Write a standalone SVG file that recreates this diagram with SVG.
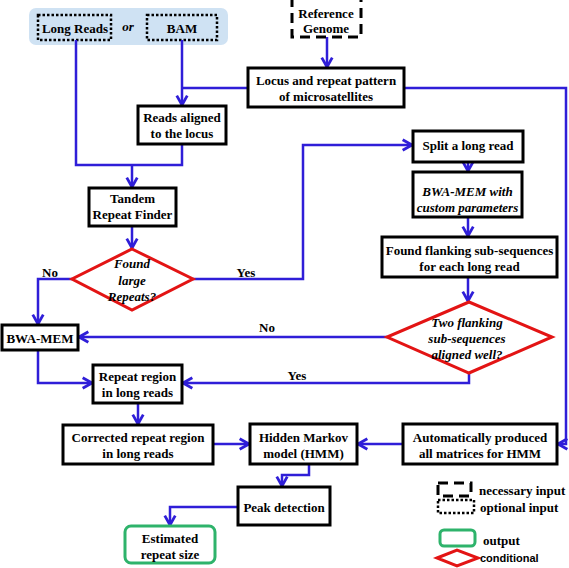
<svg xmlns="http://www.w3.org/2000/svg" width="569" height="568" viewBox="0 0 569 568">
<defs>
<marker id="arr" markerUnits="userSpaceOnUse" markerWidth="14" markerHeight="14" viewBox="0 0 12 12" refX="10" refY="6" orient="auto">
<path d="M2,1.5 L10,6 L2,10.5" fill="none" stroke="#2f1ed8" stroke-width="2.4" stroke-linejoin="miter"/>
</marker>
<style>
.box{fill:#fff;stroke:#000;stroke-width:3}
.dot{fill:none;stroke:#000;stroke-width:2.5;stroke-dasharray:2.5 2}
.dash{fill:#fff;stroke:#000;stroke-width:3;stroke-dasharray:10 6}
.cond{fill:#fff;stroke:#e31414;stroke-width:3}
.out{fill:#fff;stroke:#2eb36b;stroke-width:3}
.t{font-family:"Liberation Serif","Times New Roman",serif;font-weight:bold;font-size:13px;fill:#000;text-anchor:middle}
.i{font-style:italic}
.l{text-anchor:start}
.s{font-family:"Liberation Sans",Arial,sans-serif;font-weight:bold;font-size:11px;text-anchor:start}
.c{fill:none;stroke:#2f1ed8;stroke-width:2.5}
</style>
</defs>
<g id="inputs">
<rect x="29" y="8" width="199" height="37" rx="7" fill="#cfe2f3"/>
<g id="long-reads"><rect class="dot" x="38" y="15" width="73" height="25"/><text class="t" x="75" y="33">Long Reads</text></g>
<text class="t i" x="128" y="31">or</text>
<g id="bam"><rect class="dot" x="147" y="15" width="70" height="25"/><text class="t" x="182" y="33">BAM</text></g>
</g>
<g id="connectors">
<path class="c" d="M327,37 V67" marker-end="url(#arr)"/>
<path class="c" d="M404,88 H566 V444 H558" marker-end="url(#arr)"/>
<path class="c" d="M248,88 H182"/>
<path class="c" d="M182,40 V105" marker-end="url(#arr)"/>
<path class="c" d="M76,40 V165 H182 V144"/>
<path class="c" d="M132,165 V187" marker-end="url(#arr)"/>
<path class="c" d="M132,226 V248" marker-end="url(#arr)"/>
<path class="c" d="M72,279 H38 V324" marker-end="url(#arr)"/>
<path class="c" d="M193,279 H303 V145 H412" marker-end="url(#arr)"/>
<path class="c" d="M468,162 V171" marker-end="url(#arr)"/>
<path class="c" d="M468,217 V236" marker-end="url(#arr)"/>
<path class="c" d="M468,277 V301" marker-end="url(#arr)"/>
<path class="c" d="M387,337 H79" marker-end="url(#arr)"/>
<path class="c" d="M469,373 V383 H183" marker-end="url(#arr)"/>
<path class="c" d="M38,350 V383 H92" marker-end="url(#arr)"/>
<path class="c" d="M138,403 V424" marker-end="url(#arr)"/>
<path class="c" d="M213,444 H249" marker-end="url(#arr)"/>
<path class="c" d="M403,444 H358" marker-end="url(#arr)"/>
<path class="c" d="M309,464 V475 H282 V486" marker-end="url(#arr)"/>
<path class="c" d="M238,507 H170 V525" marker-end="url(#arr)"/>
<text class="t" x="50" y="277">No</text>
<text class="t" x="246" y="277">Yes</text>
<text class="t" x="267" y="332">No</text>
<text class="t" x="297" y="380">Yes</text>
</g>
<g id="reference-genome"><rect class="dash" x="292" y="-3" width="69" height="40"/><text class="t" x="326" y="18">Reference</text><text class="t" x="326" y="33">Genome</text></g>
<g id="locus"><rect class="box" x="248" y="68" width="156" height="39"/><text class="t" x="326" y="85">Locus and repeat pattern</text><text class="t" x="326" y="101">of microsatellites</text></g>
<g id="reads-aligned"><rect class="box" x="138" y="106" width="88" height="38"/><text class="t" x="182" y="122">Reads aligned</text><text class="t" x="182" y="138">to the locus</text></g>
<g id="tandem"><rect class="box" x="89" y="188" width="87" height="38"/><text class="t" x="132.5" y="203">Tandem</text><text class="t" x="132.5" y="219">Repeat Finder</text></g>
<g id="found-large"><polygon class="cond" points="132,249 193,279 132,310 72,279"/><text class="t i" x="132" y="268">Found</text><text class="t i" x="132" y="285">large</text><text class="t i" x="132" y="301">Repeats?</text></g>
<g id="split"><rect class="box" x="413" y="131" width="110" height="31"/><text class="t" x="468" y="150">Split a long read</text></g>
<g id="bwa-custom"><rect class="box" x="413" y="172" width="109" height="45"/><text class="t i" x="467.5" y="196">BWA-MEM with</text><text class="t i" x="467.5" y="212">custom parameters</text></g>
<g id="flanking"><rect class="box" x="382" y="237" width="175" height="40"/><text class="t" x="469.5" y="255">Found flanking sub-sequences</text><text class="t" x="469.5" y="271">for each long read</text></g>
<g id="two-flanking"><polygon class="cond" points="469,302 552,337 469,373 387,337"/><text class="t i" x="467" y="327">Two flanking</text><text class="t i" x="467" y="343">sub-sequences</text><text class="t i" x="467" y="359">aligned well?</text></g>
<g id="bwa-mem"><rect class="box" x="2" y="325" width="76" height="25"/><text class="t" x="40" y="343">BWA-MEM</text></g>
<g id="repeat-region"><rect class="box" x="93" y="365" width="89" height="38"/><text class="t" x="137.5" y="381">Repeat region</text><text class="t" x="137.5" y="397">in long reads</text></g>
<g id="corrected"><rect class="box" x="63" y="425" width="150" height="39"/><text class="t" x="138" y="442">Corrected repeat region</text><text class="t" x="138" y="458">in long reads</text></g>
<g id="hmm"><rect class="box" x="250" y="424" width="107" height="40"/><text class="t" x="303.5" y="442">Hidden Markov</text><text class="t" x="303.5" y="458">model (HMM)</text></g>
<g id="auto"><rect class="box" x="403" y="424" width="154" height="40"/><text class="t" x="480" y="442">Automatically produced</text><text class="t" x="480" y="458">all matrices for HMM</text></g>
<g id="peak"><rect class="box" x="238" y="487" width="92" height="38"/><text class="t" x="284" y="512">Peak detection</text></g>
<g id="estimated"><rect class="out" x="125" y="526" width="90" height="37" rx="6"/><text class="t" x="170" y="543">Estimated</text><text class="t" x="170" y="559">repeat size</text></g>
<g id="legend">
<rect class="dash" x="438" y="483" width="33" height="13"/><text class="t l" x="479" y="495">necessary input</text>
<rect class="dot" x="438" y="500" width="36" height="13"/><text class="t l" x="480" y="512">optional input</text>
<rect class="out" x="440" y="530" width="35" height="16" rx="4"/><text class="t l" x="483" y="545">output</text>
<polygon class="cond" points="437,558 457,550 478,558 457,566"/><text class="s" x="480" y="562">conditional</text>
</g>
</svg>
